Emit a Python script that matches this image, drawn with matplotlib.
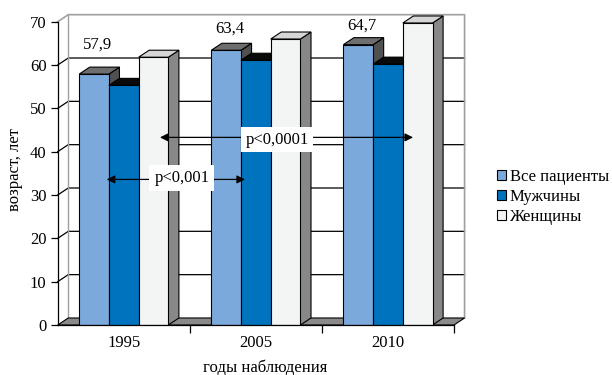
import matplotlib
matplotlib.use('Agg')
import matplotlib.pyplot as plt
from matplotlib.patches import Polygon, Patch
import numpy as np

# ---- data ----
years = ['1995', '2005', '2010']
series_names = ['Все пациенты', 'Мужчины', 'Женщины']
all_patients = [57.9, 63.4, 64.7]
men = [55.3, 61.1, 60.2]
women = [61.8, 66.0, 69.7]
value_labels = ['57,9', '63,4', '64,7']
yticks = [0, 10, 20, 30, 40, 50, 60, 70]
p_labels = ['p<0,001', 'p<0,0001']

FS = 12
plt.rcParams['font.family'] = ['Liberation Serif', 'DejaVu Serif']
plt.rcParams['font.size'] = FS

fig = plt.figure(figsize=(6.12, 3.75), dpi=100)
ax = fig.add_axes([57.7 / 612, 50 / 375, 396.3 / 612, 303.3 / 375])
ax.set_xlim(-0.5, 2.5)
ax.set_ylim(0, 70)
ax.patch.set_visible(False)

DX, DY = 0.080, 1.62
x0, x1 = -0.5, 2.5
ymax = 70

# back wall
ax.add_patch(Polygon([(x0 + DX, DY), (x1 + DX, DY), (x1 + DX, ymax + DY), (x0 + DX, ymax + DY)],
                     closed=True, facecolor='white', edgecolor='none', zorder=0.5, clip_on=False))
# left wall
ax.add_patch(Polygon([(x0, 0), (x0 + DX, DY), (x0 + DX, ymax + DY), (x0, ymax)],
                     closed=True, facecolor='white', edgecolor='none', zorder=0.5, clip_on=False))
for v in yticks[1:-1]:
    ax.plot([x0, x0 + DX, x1 + DX], [v, v + DY, v + DY], color='black', lw=0.9, zorder=0.8, clip_on=False)
# wall borders (gray)
ax.plot([x0, x0 + DX, x1 + DX, x1 + DX], [ymax, ymax + DY, ymax + DY, DY],
        color='#a0a0a0', lw=1.2, zorder=0.9, clip_on=False)
ax.plot([x0 + DX, x0 + DX], [DY, ymax + DY], color='#a0a0a0', lw=1.0, zorder=0.9, clip_on=False)
# floor
ax.add_patch(Polygon([(x0, 0), (x1, 0), (x1 + DX, DY), (x0 + DX, DY)], closed=True,
                     facecolor='#8a8a8a', edgecolor='black', lw=0.8, zorder=1, clip_on=False))

# bars
front_cols = ['#7BA9DB', '#0073BF', '#F3F4F4']
top_cols = ['#6E6E6E', '#0a0a0a', '#D6D6D6']
side_cols = ['#505050', '#000000', '#888888']
series = [all_patients, men, women]
x = np.arange(len(years))
w = 0.225
offsets = [-w, 0, w]
all_bars = []
for i, vals in enumerate(series):
    bars = ax.bar(x + offsets[i], vals, w, color=front_cols[i], edgecolor='black', linewidth=0.8)
    all_bars.append(bars)
    for j, p in enumerate(bars):
        z = 2 + j + i * 0.1
        p.set_zorder(z + 0.05)
        bx0 = p.get_x()
        bx1 = bx0 + p.get_width()
        h = p.get_height()
        ax.add_patch(Polygon([(bx1, 0), (bx1 + DX, DY), (bx1 + DX, h + DY), (bx1, h)], closed=True,
                             facecolor=side_cols[i], edgecolor='black', lw=0.8, zorder=z + 0.02, clip_on=False))
        ax.add_patch(Polygon([(bx0, h), (bx1, h), (bx1 + DX, h + DY), (bx0 + DX, h + DY)], closed=True,
                             facecolor=top_cols[i], edgecolor='black', lw=0.8, zorder=z + 0.03, clip_on=False))

# value labels above "all patients" bars
label_lift = [6.7, 5.1, 4.5]
for j, p in enumerate(all_bars[0]):
    ax.text(p.get_x() + p.get_width() / 2 + 0.03, p.get_height() + label_lift[j], value_labels[j],
            ha='center', va='center', fontsize=FS, zorder=20, clip_on=False)

# significance arrows
arrow_kw = dict(arrowstyle='<|-|>', color='black', lw=0.9, mutation_scale=12, shrinkA=0, shrinkB=0)
ax.annotate('', xy=(-0.129, 33.6), xytext=(0.918, 33.6), arrowprops=arrow_kw, zorder=15)
ax.text(0.439, 34.0, p_labels[0], ha='center', va='center', fontsize=FS, zorder=16,
        bbox=dict(facecolor='white', edgecolor='none', pad=3.5))
ax.annotate('', xy=(0.274, 43.3), xytext=(2.19, 43.3), arrowprops=arrow_kw, zorder=15)
ax.text(1.16, 42.8, p_labels[1], ha='center', va='center', fontsize=FS, zorder=16,
        bbox=dict(facecolor='white', edgecolor='none', pad=3.5))

# axes
for s in ['top', 'right']:
    ax.spines[s].set_visible(False)
ax.spines['left'].set_zorder(30)
ax.spines['bottom'].set_zorder(30)
ax.spines['left'].set_linewidth(0.9)
ax.spines['bottom'].set_linewidth(0.9)
ax.set_yticks(yticks)
ax.tick_params(axis='y', length=5, width=0.9, pad=3, labelsize=FS)
ax.set_xticks([0.5, 1.5, 2.5])
ax.set_xticklabels([])
ax.set_xticks(x, minor=True)
ax.set_xticklabels(years, minor=True)
ax.tick_params(axis='x', which='major', length=6, width=0.9)
ax.tick_params(axis='x', which='minor', length=0, pad=7, labelsize=FS)

ax.set_ylabel('возраст, лет', fontsize=FS)
ax.yaxis.label.set_va('center')
ax.yaxis.set_label_coords(-0.108, 0.511)
ax.set_xlabel('годы наблюдения', fontsize=FS)
ax.xaxis.label.set_va('center')
ax.xaxis.set_label_coords(0.523, -0.142)

handles = [Patch(facecolor=front_cols[i], edgecolor='black', lw=0.8) for i in range(3)]
fig.legend(handles, series_names, loc='center left', bbox_to_anchor=(497 / 612, 1 - 197 / 375),
           frameon=False, handlelength=0.55, handleheight=0.55, handletextpad=0.2,
           labelspacing=0.22, fontsize=FS, borderaxespad=0, borderpad=0)

fig.savefig('out.png', dpi=100)
